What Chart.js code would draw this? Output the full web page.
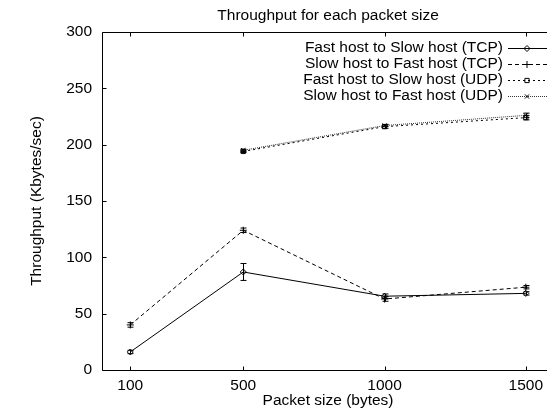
<!DOCTYPE html>
<html>
<head>
<meta charset="utf-8">
<script src="https://cdn.jsdelivr.net/npm/chart.js@4/dist/chart.umd.min.js"></script>
<style>
  html, body { margin: 0; padding: 0; background: #fff; overflow: hidden; }
  #wrap { width: 552px; height: 413px; position: relative; }
</style>
</head>
<body>
<div id="wrap"><canvas id="c"></canvas></div>
<script>
// Packet sizes (bytes) on the x axis
const packetSizes = [100, 500, 1000, 1500];

// Mean throughput (Kbytes/sec) and error half-widths per series
const tcpFastToSlow    = [16, 87, 65.5, 68];
const tcpFastToSlowErr = [1.5, 7.5, 2, 1.5];
const tcpSlowToFast    = [40, 124, 63, 73.5];
const tcpSlowToFastErr = [2, 2, 2, 1.5];
const udpFastToSlow    = [null, 194, 216, 224];
const udpFastToSlowErr = [null, 1, 1.5, 2];
const udpSlowToFast    = [null, 195, 217, 226];
const udpSlowToFastErr = [null, 1, 1, 2];

const yTicks = [0, 50, 100, 150, 200, 250, 300];

const seriesNames = [
  'Fast host to Slow host (TCP)',
  'Slow host to Fast host (TCP)',
  'Fast host to Slow host (UDP)',
  'Slow host to Fast host (UDP)'
];

const FONT_FAMILY = '"Liberation Sans", Arial, Helvetica, sans-serif';
const FONT_SIZE = 15.5;
const FONT = FONT_SIZE + 'px ' + FONT_FAMILY;

const seriesValues = [tcpFastToSlow, tcpSlowToFast, udpFastToSlow, udpSlowToFast];
const seriesErrors = [tcpFastToSlowErr, tcpSlowToFastErr, udpFastToSlowErr, udpSlowToFastErr];

function points(values) {
  const out = [];
  values.forEach((v, i) => { if (v !== null) out.push({ x: packetSizes[i], y: v }); });
  return out;
}

function series(i, dash, pointStyle, radius, color) {
  return {
    label: seriesNames[i],
    data: points(seriesValues[i]),
    borderColor: color,
    borderWidth: 1,
    borderDash: dash,
    pointStyle,
    pointRadius: radius,
    pointBorderColor: '#000',
    pointBackgroundColor: 'rgba(0,0,0,0)',
    pointBorderWidth: 1,
    fill: false,
    tension: 0
  };
}

const datasets = [
  series(0, [], 'rectRot', 3, '#000'),
  series(1, [4, 3], 'cross', 3.5, '#000'),
  series(2, [2, 3], 'rect', 3, '#000'),
  series(3, [1, 1], 'crossRot', 3, '#333')
];

// Error bars, border box with inward ticks, titles and the key
const decorations = {
  id: 'decorations',
  afterDatasetsDraw(chart) {
    const { ctx } = chart;
    const x = chart.scales.x, y = chart.scales.y;
    ctx.save();
    ctx.strokeStyle = '#000';
    ctx.lineWidth = 1;
    ctx.setLineDash([]);
    seriesValues.forEach((values, s) => {
      values.forEach((v, i) => {
        const e = seriesErrors[s][i];
        if (v === null || e === null) return;
        const px = Math.round(x.getPixelForValue(packetSizes[i])) + 0.5;
        const top = y.getPixelForValue(v + e);
        const bot = y.getPixelForValue(v - e);
        ctx.beginPath();
        ctx.moveTo(px, top); ctx.lineTo(px, bot);
        ctx.moveTo(px - 3, top); ctx.lineTo(px + 3, top);
        ctx.moveTo(px - 3, bot); ctx.lineTo(px + 3, bot);
        ctx.stroke();
      });
    });
    ctx.restore();
  },
  afterDraw(chart) {
    const { ctx, chartArea: a } = chart;
    const x = chart.scales.x, y = chart.scales.y;
    ctx.save();
    ctx.strokeStyle = '#000';
    ctx.lineWidth = 1;
    ctx.setLineDash([]);
    ctx.beginPath();
    const L = Math.round(a.left) + 0.5, T = Math.round(a.top) + 0.5, B = Math.round(a.bottom) + 0.5;
    ctx.moveTo(L, T); ctx.lineTo(a.right, T);
    ctx.moveTo(L, T); ctx.lineTo(L, B);
    ctx.moveTo(L, B); ctx.lineTo(a.right, B);
    packetSizes.forEach(v => {
      const px = Math.round(x.getPixelForValue(v)) + 0.5;
      ctx.moveTo(px, B); ctx.lineTo(px, B - 4);
      ctx.moveTo(px, T); ctx.lineTo(px, T + 4);
    });
    yTicks.forEach(v => {
      const py = Math.round(y.getPixelForValue(v)) + 0.5;
      ctx.moveTo(L, py); ctx.lineTo(L + 4, py);
    });
    ctx.stroke();

    ctx.fillStyle = '#000';
    ctx.font = FONT;
    ctx.textAlign = 'center';
    ctx.textBaseline = 'middle';
    const cx = (a.left + x.getPixelForValue(1600)) / 2;
    ctx.fillText('Throughput for each packet size', cx, 16);
    ctx.fillText('Packet size (bytes)', cx, 401);
    ctx.save();
    ctx.translate(37, (a.top + a.bottom) / 2);
    ctx.rotate(-Math.PI / 2);
    ctx.fillText('Throughput (Kbytes/sec)', 0, 0);
    ctx.restore();

    // key
    const rows = [48, 64, 80, 96];
    chart.data.datasets.forEach((ds, i) => {
      const ry = rows[i];
      ctx.textAlign = 'right';
      ctx.fillStyle = '#000';
      ctx.fillText(ds.label, 503, ry);
      ctx.strokeStyle = ds.borderColor;
      ctx.setLineDash(ds.borderDash);
      ctx.beginPath();
      ctx.moveTo(508, Math.round(ry) + 0.5);
      ctx.lineTo(547, Math.round(ry) + 0.5);
      ctx.stroke();
      ctx.setLineDash([]);
      ctx.strokeStyle = '#000';
      ctx.fillStyle = 'rgba(0,0,0,0)';
      Chart.helpers.drawPoint(ctx, {
        pointStyle: ds.pointStyle, rotation: 0, radius: ds.pointRadius, borderWidth: 1
      }, 527, Math.round(ry) + 0.5);
    });
    ctx.restore();
  }
};

new Chart(document.getElementById('c'), {
  type: 'line',
  data: { datasets },
  options: {
    responsive: true,
    maintainAspectRatio: false,
    animation: false,
    layout: { padding: { top: 32, right: 0, left: 0, bottom: 0 } },
    plugins: { legend: { display: false }, title: { display: false }, tooltip: { enabled: false } },
    scales: {
      x: {
        type: 'linear',
        min: 0,
        max: 1575,
        grid: { display: false, drawTicks: false },
        border: { display: false },
        afterBuildTicks(scale) { scale.ticks = packetSizes.map(v => ({ value: v })); },
        afterFit(scale) { scale.height = 43; },
        ticks: {
          color: '#000',
          font: { family: FONT_FAMILY, size: FONT_SIZE },
          padding: 6,
          maxRotation: 0,
          autoSkip: false,
          callback: v => String(v)
        }
      },
      y: {
        type: 'linear',
        min: 0,
        max: 300,
        grid: { display: false, drawTicks: false },
        border: { display: false },
        afterBuildTicks(scale) { scale.ticks = yTicks.map(v => ({ value: v })); },
        afterFit(scale) { scale.width = 102; },
        ticks: {
          color: '#000',
          font: { family: FONT_FAMILY, size: FONT_SIZE },
          padding: 10,
          callback: v => String(v)
        }
      }
    }
  },
  plugins: [decorations]
});
</script>
</body>
</html>
